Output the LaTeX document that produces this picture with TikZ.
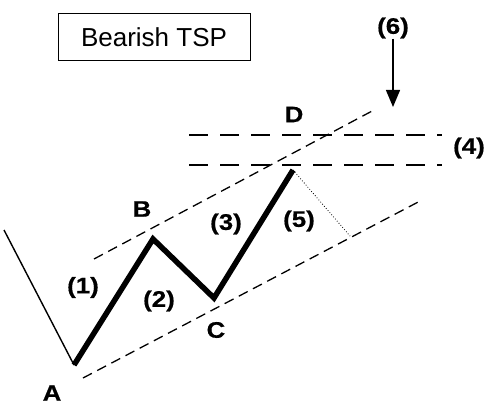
\documentclass[tikz,border=0pt]{standalone}
\usepackage{fontspec}
\setmainfont{Liberation Sans}
\newfontfamily\lblfont[FakeStretch=1.15, BoldFeatures={FakeBold=0.6}]{Liberation Sans}
\usetikzlibrary{arrows.meta}
\begin{document}
\begin{tikzpicture}[x=1pt, y=-1pt,
    wave/.style = {line width=5.5pt, line join=miter},
    channel/.style = {line width=1.3pt, dash pattern=on 10pt off 6pt},
    level/.style = {line width=1.5pt, dash pattern=on 19pt off 12pt},
    lbl/.style = {font=\lblfont\bfseries\fontsize{22.5}{24}\selectfont, inner sep=0pt}]
    \useasboundingbox (0,0) rectangle (489,414);
    % title
    \node[draw, line width=1pt, minimum width=192pt, minimum height=47pt,
        font=\fontsize{26}{28}\selectfont] (title) at (154,37.5) {Bearish TSP};
    % turning points
    \coordinate (start) at (4,230);
    \coordinate (A) at (74,365);
    \coordinate (B) at (153,239);
    \coordinate (C) at (214,298);
    \coordinate (top) at (293,170);
    % channel and levels
    \coordinate (up1) at (94,259);
    \coordinate (up2) at (374,110);
    \coordinate (lo1) at (83,378);
    \coordinate (lo2) at (422,200);
    \coordinate (foot) at (350,236);
    \coordinate (lvA1) at (189,135);
    \coordinate (lvA2) at (442,135);
    \coordinate (lvB1) at (189,165);
    \coordinate (lvB2) at (442,165);
    \draw[line width=1.4pt] (start) -- (A);
    \draw[wave] (A) -- (B) -- (C) -- (top);
    \draw[channel] (up1) -- (up2);
    \draw[channel] (lo1) -- (lo2);
    \draw[level] (lvA1) -- (lvA2);
    \draw[level] (lvB1) -- (lvB2);
    \draw[line width=0.8pt, dotted] (top) -- (foot);
    % labels
    \node[lbl] (labA) at (52,393) {A};
    \node[lbl] (labB) at (142,209) {B};
    \node[lbl] (labC) at (216,330) {C};
    \node[lbl] (labD) at (294,114.5) {D};
    \node[lbl] (w1) at (83,287.5) {(1)};
    \node[lbl] (w2) at (159,301) {(2)};
    \node[lbl] (w3) at (226,224) {(3)};
    \node[lbl] (w4) at (469,148) {(4)};
    \node[lbl] (w5) at (299,221) {(5)};
    \node[lbl] (w6) at (393,28) {(6)};
    \coordinate (tip) at (393,107);
    \draw[line width=1.3pt, -{Triangle[length=17pt, width=14pt]}] (w6) -- (tip);
\end{tikzpicture}
\end{document}
